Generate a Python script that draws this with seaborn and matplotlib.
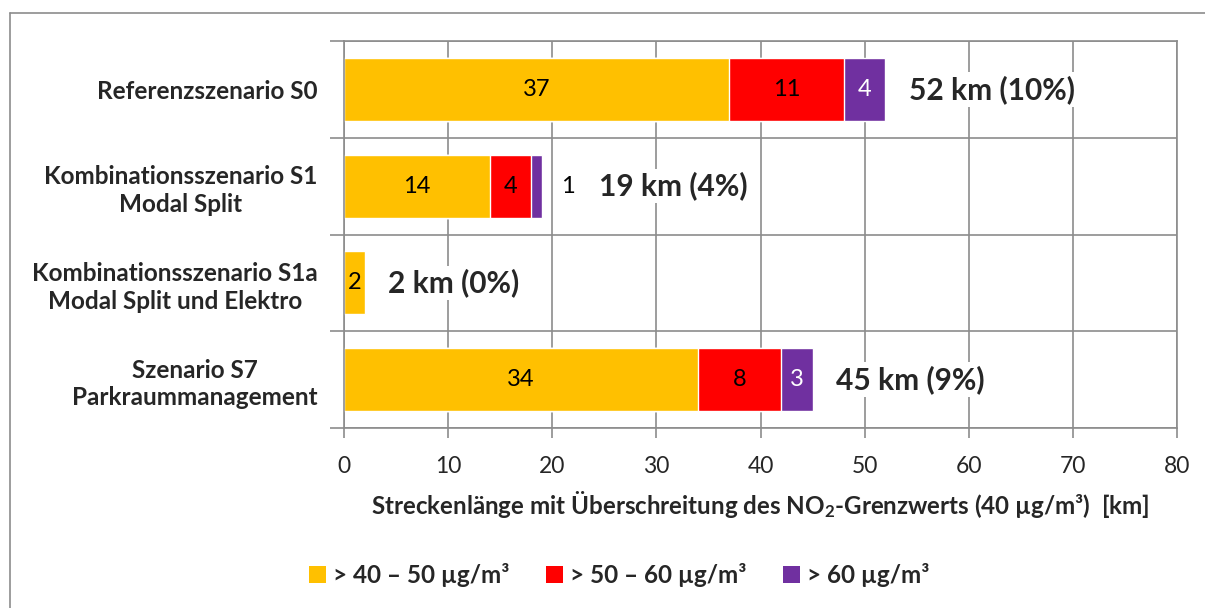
import matplotlib
matplotlib.use("Agg")
import matplotlib.pyplot as plt
import seaborn as sns
import pandas as pd
import numpy as np
from matplotlib.patches import Patch
from matplotlib.lines import Line2D

# ---- data ----
categories = ["Referenzszenario S0",
              "Kombinationsszenario S1\nModal Split",
              "Kombinationsszenario S1a\nModal Split und Elektro",
              "Szenario S7\nParkraummanagement"]
v_40_50 = [37, 14, 2, 34]
v_50_60 = [11, 4, 0, 8]
v_60 = [4, 1, 0, 3]
percent = [10, 4, 0, 9]
series_names = ["> 40 \u2013 50 \u00b5g/m\u00b3", "> 50 \u2013 60 \u00b5g/m\u00b3", "> 60 \u00b5g/m\u00b3"]
colors = ["#FFC000", "#FF0000", "#7030A0"]
label_colors = ["black", "black", "white"]
xticks = [0, 10, 20, 30, 40, 50, 60, 70, 80]
xlabel = "Streckenl\u00e4nge mit \u00dcberschreitung des NO$_2$-Grenzwerts (40 \u00b5g/m\u00b3)  [km]"

sns.set_theme(style="white")
plt.rcParams['font.family'] = ['Lato', 'DejaVu Sans']
plt.rcParams['mathtext.fontset'] = 'custom'
plt.rcParams['mathtext.rm'] = 'Lato:bold'
plt.rcParams['mathtext.it'] = 'Lato:bold'
plt.rcParams['mathtext.bf'] = 'Lato:bold'

grid_c = "#8C8C8C"

df = pd.DataFrame({"cat": categories, "a": v_40_50, "b": v_50_60, "c": v_60})
df["cum_a"] = df["a"]
df["cum_b"] = df["a"] + df["b"]
df["cum_c"] = df["a"] + df["b"] + df["c"]

fig = plt.figure(figsize=(12.05, 6.08), dpi=100)
ax = fig.add_axes([344/1205, 1 - 428/608, (1177-344)/1205, (428-41)/608])

for col, c in zip(["cum_c", "cum_b", "cum_a"], colors[::-1]):
    sns.barplot(data=df, x=col, y="cat", orient="h", color=c, width=0.65,
                saturation=1, ax=ax, zorder=2)

ax.set_xlim(0, 80)
ax.set_ylim(3.5, -0.5)
ax.set_xticks(xticks)
ax.set_xticklabels([str(t) for t in xticks], fontsize=16.5)
ax.set_yticks(range(len(categories)))
ax.set_yticklabels(categories, fontsize=17.5, fontweight="bold")
for t in ax.get_yticklabels():
    t.set_multialignment("center")
    t.set_linespacing(1.25)
ax.set_yticks(np.arange(-0.5, len(categories), 1), minor=True)
ax.tick_params(axis="y", which="major", length=0, pad=19)
ax.tick_params(axis="y", which="minor", length=10, width=1.2, color=grid_c, left=True)
ax.tick_params(axis="x", which="major", length=7, width=1.2, color=grid_c, bottom=True, pad=13)
ax.set_ylabel("")
ax.set_xlabel(xlabel, fontsize=17.4, fontweight="bold", labelpad=9)

ax.grid(axis="x", which="major", color=grid_c, lw=1.2, zorder=0)
ax.grid(axis="y", which="minor", color=grid_c, lw=1.2, zorder=0)
ax.set_axisbelow(True)
for s in ax.spines.values():
    s.set_color(grid_c)
    s.set_linewidth(1.2)

# segment labels
for i in range(len(categories)):
    left = 0
    vals = [v_40_50[i], v_50_60[i], v_60[i]]
    total = sum(vals)
    extra = 0
    for j, v in enumerate(vals):
        if v > 0:
            if v >= 2:
                ax.text(left + v / 2, i, str(v), ha="center", va="center",
                        fontsize=17, color=label_colors[j], zorder=4)
            else:
                ax.annotate(str(v), xy=(total, i), xytext=(14, 0), textcoords="offset points",
                            ha="left", va="center", fontsize=17, color="black", zorder=4,
                            bbox=dict(facecolor="white", edgecolor="none", pad=3))
                extra = 24
        left += v
    ax.annotate(f"{total} km ({percent[i]}%)", xy=(total, i), xytext=(17 + extra, 0),
                textcoords="offset points", ha="left", va="center", fontsize=21.5,
                fontweight="bold", zorder=4,
                bbox=dict(facecolor="white", edgecolor="none", pad=2))

handles = [Patch(facecolor=c, edgecolor="none") for c in colors]
fig.legend(handles, series_names, loc="center", bbox_to_anchor=(619/1205, 1 - 575/608),
           ncol=3, frameon=False, prop={"weight": "bold", "size": 17.5},
           handlelength=0.7, handleheight=0.7, handletextpad=0.3, columnspacing=1.5)

# outer border
fig.add_artist(Line2D([10/1205, 1.0], [1 - 13/608, 1 - 13/608], transform=fig.transFigure,
                      color=grid_c, lw=1.2))
fig.add_artist(Line2D([10/1205, 10/1205], [0, 1 - 13/608], transform=fig.transFigure,
                      color=grid_c, lw=1.2))

fig.savefig("out.png", dpi=100, facecolor="white")
